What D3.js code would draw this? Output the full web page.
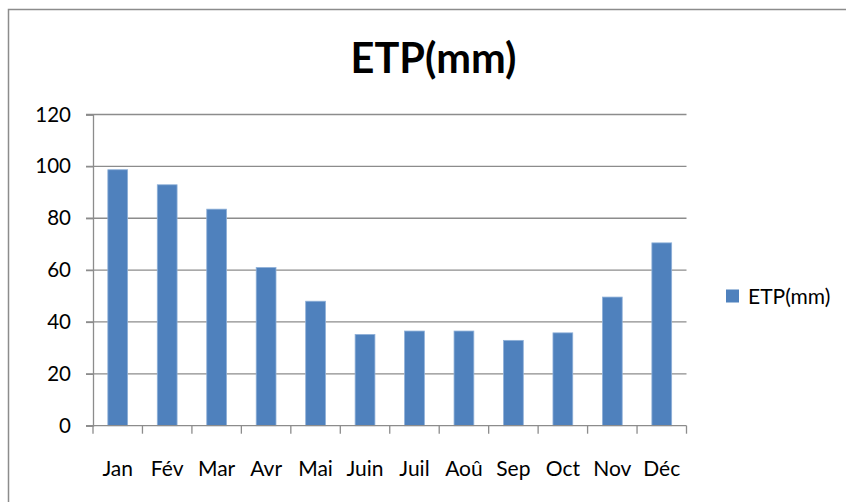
<!DOCTYPE html>
<html>
<head>
<meta charset="utf-8">
<script src="https://cdn.jsdelivr.net/npm/d3@7"></script>
<style>
  html, body { margin: 0; padding: 0; background: #fff; }
  svg { display: block; }
  text { font-family: Lato, "Open Sans", "Liberation Sans", sans-serif; fill: #000; }
</style>
</head>
<body>
<svg id="chart" width="846" height="502"></svg>
<script>
const categories = ["Jan", "Fév", "Mar", "Avr", "Mai", "Juin", "Juil", "Aoû", "Sep", "Oct", "Nov", "Déc"];
const etpValues = [98.7, 92.9, 83.5, 61.0, 48.0, 35.2, 36.5, 36.5, 32.9, 35.8, 49.6, 70.5];
const yTicks = [0, 20, 40, 60, 80, 100, 120];
const seriesName = "ETP(mm)";
const chartTitle = "ETP(mm)";

const svg = d3.select("#chart");

// outer chart border
svg.append("rect")
  .attr("x", 8.5).attr("y", 9.5)
  .attr("width", 850).attr("height", 520)
  .attr("fill", "none").attr("stroke", "#8c8c8c").attr("stroke-width", 1.5);

const plot = { left: 93, right: 686.5, top: 114.5, bottom: 425.7 };

const x = d3.scaleBand().domain(categories).range([plot.left, plot.right]).paddingInner(0.6).paddingOuter(0.3);
const xEdges = d3.scaleBand().domain(categories).range([plot.left, plot.right]).padding(0);
const y = d3.scaleLinear().domain([0, 120]).range([plot.bottom, plot.top]);

// gridlines
svg.append("g").selectAll("line").data(yTicks.filter(d => d > 0)).join("line")
  .attr("x1", plot.left - 7).attr("x2", plot.right)
  .attr("y1", d => y(d)).attr("y2", d => y(d))
  .attr("stroke", "#8c8c8c").attr("stroke-width", 1.3);

// y axis
const yAxis = d3.axisLeft(y).tickValues(yTicks).tickSize(7).tickPadding(15).tickFormat(d3.format("d"));
const gy = svg.append("g").attr("transform", `translate(${plot.left},0)`).call(yAxis);
gy.select(".domain").attr("stroke", "#8c8c8c").attr("stroke-width", 1.3);
gy.selectAll(".tick line").attr("stroke", "#8c8c8c").attr("stroke-width", 1.3);
gy.selectAll(".tick text").attr("font-size", 20.5).attr("fill", "#000").style("font-family", "Lato, sans-serif");

// bars
svg.append("g").selectAll("rect").data(categories.map((c, i) => ({ c, v: etpValues[i] }))).join("rect")
  .attr("x", d => x(d.c))
  .attr("y", d => y(d.v))
  .attr("width", x.bandwidth())
  .attr("height", d => y(0) - y(d.v))
  .attr("fill", "#4f81bd")
  .attr("stroke", "#8fb0d8").attr("stroke-width", 0.8);

// x axis
const gx = svg.append("g").attr("transform", `translate(0,${plot.bottom})`);
gx.append("line").attr("x1", plot.left - 7).attr("x2", plot.right)
  .attr("y1", 0).attr("y2", 0).attr("stroke", "#8c8c8c").attr("stroke-width", 1.3);
const edges = categories.map(c => xEdges(c)).concat([plot.right]);
gx.selectAll("line.tk").data(edges).join("line").attr("class", "tk")
  .attr("x1", d => d).attr("x2", d => d).attr("y1", 0).attr("y2", 8)
  .attr("stroke", "#8c8c8c").attr("stroke-width", 1.3);
gx.selectAll("text").data(categories).join("text")
  .attr("x", d => x(d) + x.bandwidth() / 2)
  .attr("y", 50)
  .attr("text-anchor", "middle")
  .attr("font-size", 21)
  .text(d => d);

// title
svg.append("text").attr("x", 433.5).attr("y", 73).attr("text-anchor", "middle")
  .attr("font-size", 41.5).attr("font-weight", "bold").text(chartTitle);

// legend
svg.append("rect").attr("x", 726).attr("y", 289.5).attr("width", 13).attr("height", 13).attr("fill", "#4f81bd");
svg.append("text").attr("x", 748).attr("y", 303.5).attr("font-size", 21).text(seriesName);
</script>
</body>
</html>
